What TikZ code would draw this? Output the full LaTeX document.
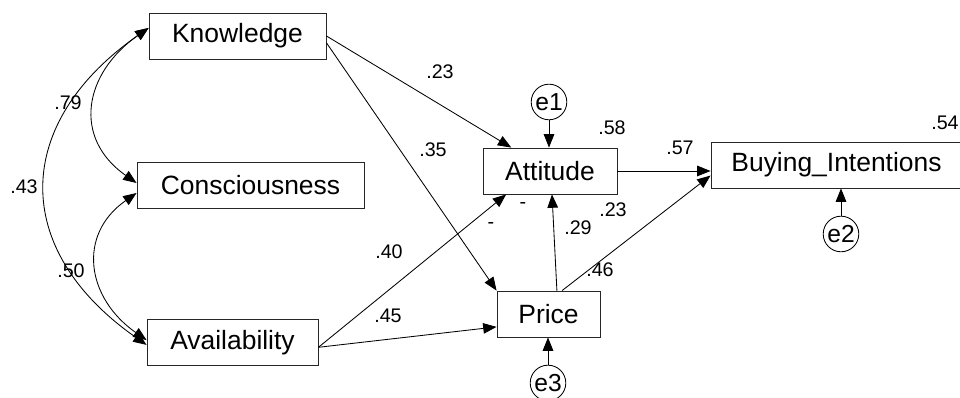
\documentclass[tikz,border=0pt]{standalone}
\usepackage{fontspec}
\setmainfont{Liberation Sans}
\usetikzlibrary{arrows.meta,calc}

\begin{document}
\begin{tikzpicture}[x=0.025cm,y=0.025cm,
		obsvar/.style={draw=black!85,line width=0.6pt,inner sep=0pt,minimum height=1.15cm,font=\fontsize{18.8}{22}\selectfont},
		errvar/.style={draw,circle,line width=0.6pt,inner sep=0pt,minimum size=0.89cm,font=\fontsize{17.5}{20}\selectfont},
		coef/.style={inner sep=0pt,font=\fontsize{14}{16}\selectfont},
		effect/.style={line width=0.6pt,-{Triangle[length=9.5pt,width=7.5pt]}},
		cov/.style={line width=0.6pt,{Triangle[length=9.5pt,width=7.5pt]}-{Triangle[length=9.5pt,width=7.5pt]}}]
	\useasboundingbox (0,0) rectangle (960,398);
	% variables
	\node[obsvar,minimum width=4.425cm] (Knowledge) at (237.5,362) {Knowledge};
	\node[obsvar,minimum width=5.675cm] (Consciousness) at (250.5,213) {Consciousness};
	\node[obsvar,minimum width=4.275cm] (Availability) at (232.5,55.5) {Availability};
	\node[obsvar,minimum width=3.35cm] (Attitude) at (550,227) {Attitude};
	\node[obsvar,minimum width=2.575cm] (Price) at (548.5,84) {Price};
	\node[obsvar,minimum width=6.275cm] (Buying) at (836.5,233) {Buying\_Intentions};
	\node[errvar] (e1) at (549,296) {e1};
	\node[errvar] (e2) at (841,164) {e2};
	\node[errvar] (e3) at (548,15) {e3};
	% covariances
	\draw[cov] ([yshift=0.2cm]Knowledge.west) to[out=215,in=145,looseness=1.3] ([yshift=0.05cm]Consciousness.west);
	\draw[cov] ([yshift=0.2cm]Knowledge.west) to[out=215,in=145,looseness=1.34] ([yshift=-0.06cm]Availability.west);
	\draw[cov] ([yshift=-0.2cm]Consciousness.west) to[out=215,in=145,looseness=1.27] ([yshift=0.06cm]Availability.west);
	% paths
	\draw[effect] (Knowledge.east) -- (Attitude);
	\draw[effect] ([yshift=-0.17cm]Knowledge.east) -- (Price.north west);
	\draw[effect] ([yshift=-0.12cm]Availability.east) -- ($(Attitude.south west)!0.35!(Attitude.south)$);
	\draw[effect] ([yshift=-0.12cm]Availability.east) -- ($(Price.west)!0.55!(Price.south west)$);
	\draw[effect] ([xshift=0.21cm]Price.north) -- ([xshift=0.05cm]Attitude.south);
	\draw[effect] ([xshift=0.34cm]Price.north) -- ($(Buying.west)!0.45!(Buying.south west)$);
	\draw[effect] (Attitude.east) -- (Attitude.east -| Buying.west);
	\draw[effect] (e1.south) -- (e1.south |- Attitude.north);
	\draw[effect] (e2.north) -- (e2.north |- Buying.south);
	\draw[effect] (e3.north) -- (e3.north |- Price.south);
	% estimates
	\node[coef] (rKC) at (68,295) {.79};
	\node[coef] (rKA) at (24,211) {.43};
	\node[coef] (rCA) at (71,127) {.50};
	\node[coef] (bKAtt) at (440,326) {.23};
	\node[coef] (bKP) at (433,248) {.35};
	\node[coef] (bAAtt) at (389,146) {.40};
	\node[coef] (bAP) at (388,82) {.45};
	\node[coef] (bPAtt) at (578,170) {.29};
	\node[coef] (bPB) at (600,128) {.46};
	\node[coef] (bAttB) at (680,250) {.57};
	\node[coef] (sqAtt) at (612,270) {.58};
	\node[coef] (sqB) at (945,275) {.54};
	\node[coef] (sqP) at (613,188) {.23};
	\node[coef] (dash1) at (523,192) {-};
	\node[coef] (dash2) at (491,172) {-};
\end{tikzpicture}
\end{document}
